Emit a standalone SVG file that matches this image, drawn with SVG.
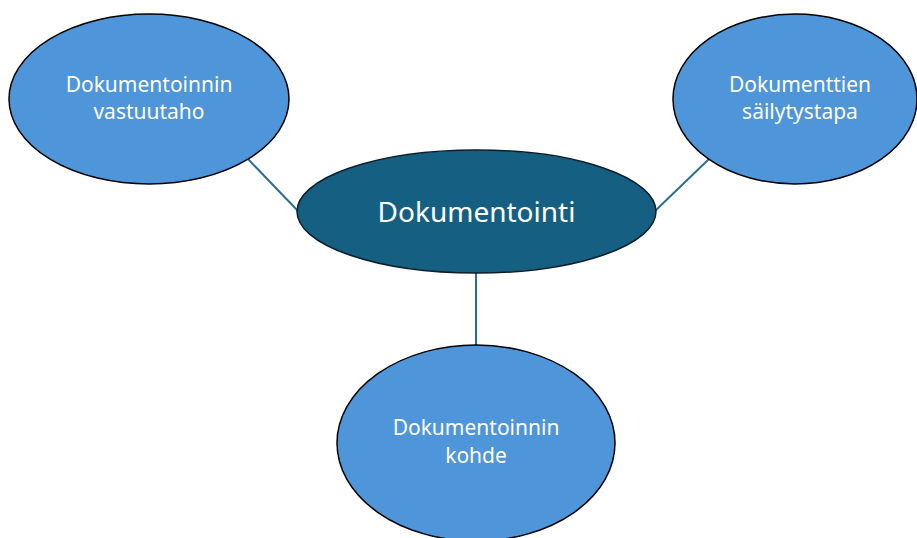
<svg xmlns="http://www.w3.org/2000/svg" width="917" height="538" viewBox="0 0 917 538">
<style>
.sat{fill:#4E95D9;stroke:#000;stroke-width:1.5}
.hub{fill:#156082;stroke:#0d1e28;stroke-width:1.5}
.t{font-family:"Noto Sans","Open Sans",sans-serif;fill:#fff;text-anchor:middle}
.s{font-size:21px}
.h{font-size:28px}
.c{stroke:#2C6F8E;stroke-width:2;fill:none}
</style>
<rect width="917" height="538" fill="#fff"/>
<g id="connectors">
<line class="c" x1="248" y1="159" x2="298" y2="211"/>
<line class="c" x1="709" y1="159" x2="655" y2="211"/>
<line class="c" x1="476" y1="272" x2="476" y2="346"/>
</g>
<g id="node-vastuutaho">
<ellipse class="sat" cx="149" cy="99" rx="140" ry="85"/>
<text class="t s" x="149" y="92">Dokumentoinnin</text>
<text class="t s" x="149" y="119">vastuutaho</text>
</g>
<g id="node-sailytystapa">
<ellipse class="sat" cx="795" cy="99" rx="122" ry="85"/>
<text class="t s" x="800" y="92">Dokumenttien</text>
<text class="t s" x="800" y="119">säilytystapa</text>
</g>
<g id="node-kohde">
<ellipse class="sat" cx="476" cy="443" rx="139" ry="98"/>
<text class="t s" x="476" y="435">Dokumentoinnin</text>
<text class="t s" x="476" y="463">kohde</text>
</g>
<g id="node-dokumentointi">
<ellipse class="hub" cx="476.5" cy="211.5" rx="179.5" ry="61.5"/>
<text class="t h" x="476.5" y="222">Dokumentointi</text>
</g>
</svg>
